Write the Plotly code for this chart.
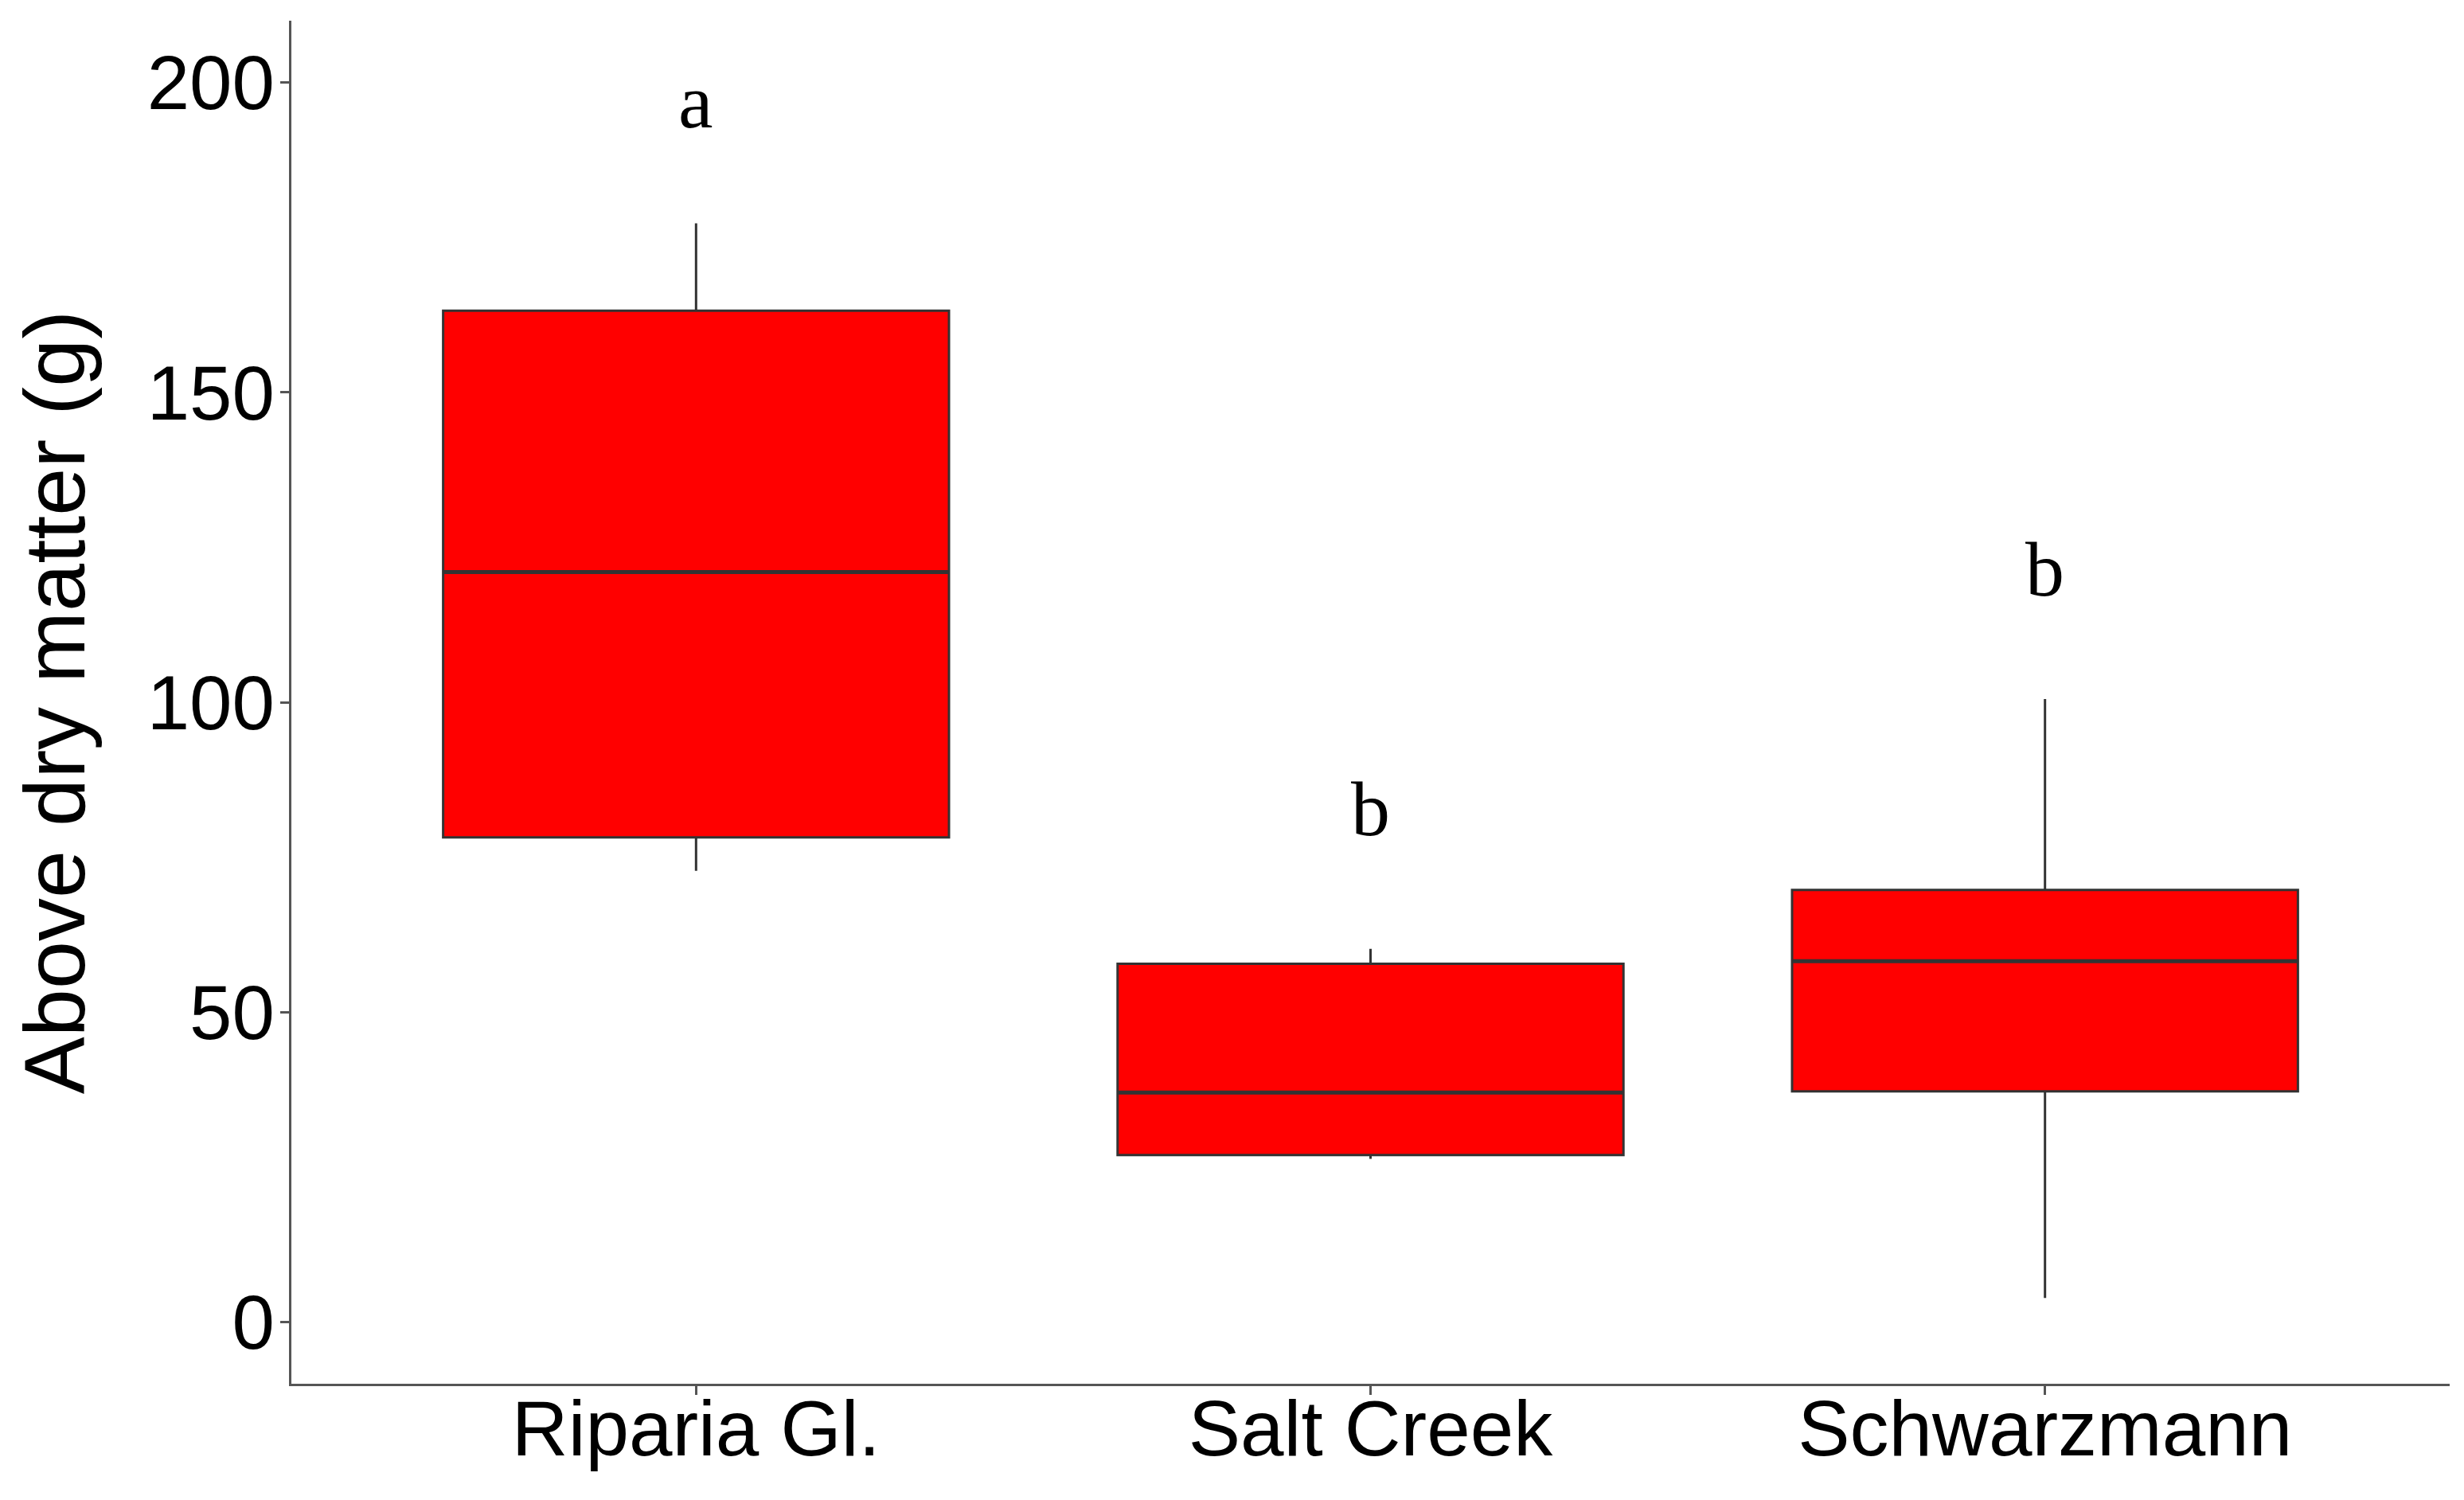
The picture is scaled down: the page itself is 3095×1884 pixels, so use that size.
import plotly.graph_objects as go

# ---- data ----
categories = ["Riparia Gl.", "Salt Creek", "Schwarzmann"]
lower_whisker = [72.8, 26.3, 3.85]
q1_values = [78.2, 26.9, 37.2]
median_values = [121.0, 37.0, 58.2]
q3_values = [163.2, 57.8, 69.7]
upper_whisker = [177.3, 60.2, 100.5]
group_letters = ["a", "b", "b"]
letter_y = [197.0, 82.8, 121.5]
y_ticks = [0, 50, 100, 150, 200]

positions = list(range(len(categories)))
BOX_W = 0.75
EDGE = "#333333"

fig = go.Figure()
fig.add_trace(go.Box(
    x=positions,
    q1=q1_values, median=median_values, q3=q3_values,
    lowerfence=lower_whisker, upperfence=upper_whisker,
    width=BOX_W, whiskerwidth=0,
    fillcolor="#FF0000",
    line=dict(color=EDGE, width=3),
    boxpoints=False, hoverinfo="skip",
))

# thicker median segments (ggplot style)
mx, my = [], []
for p, m in zip(positions, median_values):
    mx += [p - BOX_W / 2, p + BOX_W / 2, None]
    my += [m, m, None]
fig.add_trace(go.Scatter(x=mx, y=my, mode="lines",
                         line=dict(color=EDGE, width=5), hoverinfo="skip"))

for p, t, yv in zip(positions, group_letters, letter_y):
    fig.add_annotation(x=p, y=yv, text=t, showarrow=False,
                       xanchor="center", yanchor="middle",
                       font=dict(family="Liberation Serif, Times New Roman, serif",
                                 size=98, color="black"))

sans = "Liberation Sans, Arial, sans-serif"

# the page body adds an 8px margin on each side; the figure is sized to fit
fig.update_layout(
    width=3079, height=1868,
    margin=dict(l=358, r=10, t=18, b=138),
    plot_bgcolor="white", paper_bgcolor="white",
    showlegend=False,
)
fig.update_xaxes(
    range=[-0.6, 2.6], tickmode="array", tickvals=positions, ticktext=categories,
    showgrid=False, zeroline=False, showline=True, linecolor="#555555", linewidth=3,
    ticks="outside", ticklen=11, tickwidth=3, tickcolor="#555555",
    ticklabelstandoff=-42,
    tickfont=dict(family=sans, size=98, color="black"),
)
fig.update_yaxes(
    range=[-10, 210], tickmode="array", tickvals=y_ticks,
    showgrid=False, zeroline=False, showline=True, linecolor="#555555", linewidth=3,
    ticks="outside", ticklen=11, tickwidth=3, tickcolor="#555555",
    ticklabelstandoff=-12,
    tickfont=dict(family=sans, size=96, color="black"),
    title=dict(text="Above dry matter (g)", standoff=57,
               font=dict(family=sans, size=108, color="black")),
)

fig.write_html("out.html")
